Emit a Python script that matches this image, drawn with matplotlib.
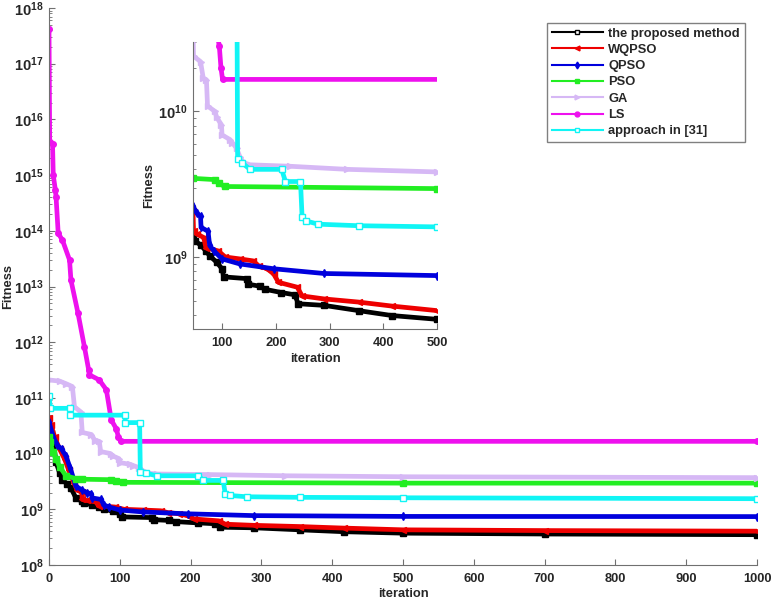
import math
import matplotlib.pyplot as plt
from matplotlib.ticker import FuncFormatter, LogLocator, NullFormatter

plt.rcParams['font.family'] = 'Liberation Sans'
plt.rcParams['font.weight'] = 'bold'
plt.rcParams['mathtext.fontset'] = 'custom'
plt.rcParams['mathtext.bf'] = 'Liberation Sans:bold'
plt.rcParams['mathtext.rm'] = 'Liberation Sans:bold'

# (iteration, fitness)
prop_x = [0, 3, 6, 10, 15, 19, 25, 31, 38, 46, 50, 61, 70, 77, 90, 100, 103, 146, 149, 170, 180, 210, 235, 242, 290, 354, 416, 500, 700, 1000]
prop_y = [3.0e10, 2.3e10, 1.7e10, 7e9, 4.5e9, 3.4e9, 2.9e9, 2.4e9, 1.6e9, 1.4e9, 1.29e9, 1.2e9, 1.1e9, 1.02e9, 9.2e8, 8.3e8, 7.3e8, 7.1e8, 6.5e8, 6.3e8, 6.0e8, 5.7e8, 5.5e8, 4.77e8, 4.65e8, 4.28e8, 3.96e8, 3.73e8, 3.6e8, 3.5e8]

wqpso_x = [0, 3, 8, 15, 22, 28, 35, 40, 46, 47, 53, 66, 70, 93, 106, 133, 158, 168, 184, 196, 205, 240, 249, 290, 354, 416, 500, 700, 1000]
wqpso_y = [4.3e10, 3.2e10, 2.0e10, 1.2e10, 8e9, 5e9, 3e9, 2.2e9, 2.07e9, 1.5e9, 1.44e9, 1.36e9, 1.16e9, 1.1e9, 1.0e9, 9.7e8, 9.4e8, 8.7e8, 8.3e8, 7.65e8, 6.7e8, 6.2e8, 5.4e8, 5.15e8, 4.9e8, 4.6e8, 4.28e8, 4.15e8, 4.05e8]

qpso_x = [0, 6, 12, 18, 24, 30, 38, 46, 53, 60, 61, 74, 77, 85, 100, 133, 196, 290, 500, 1000]
qpso_y = [3.7e10, 2.0e10, 1.4e10, 1.2e10, 9e9, 5.5e9, 2.6e9, 2.24e9, 2.0e9, 1.9e9, 1.6e9, 1.5e9, 1.2e9, 1.1e9, 9.7e8, 8.96e8, 8.3e8, 7.7e8, 7.45e8, 7.4e8]

pso_x = [0, 2, 5, 10, 15, 24, 38, 46, 87, 95, 105, 500, 1000]
pso_y = [2.0e10, 1.6e10, 1.07e10, 8e9, 5.8e9, 4e9, 3.55e9, 3.47e9, 3.4e9, 3.2e9, 3.05e9, 2.95e9, 2.95e9]

ga_x = [0, 15, 24, 33, 36, 45, 47, 60, 65, 71, 73, 87, 90, 99, 100, 115, 119, 127, 133, 140, 152, 227, 333, 500, 1000]
ga_y = [2.1e11, 2.0e11, 1.8e11, 1.6e11, 6.9e10, 5.6e10, 2.4e10, 2.2e10, 1.7e10, 1.65e10, 1.09e10, 1.0e10, 9.1e9, 8.1e9, 6.9e9, 6.4e9, 6.1e9, 5.6e9, 4.9e9, 4.45e9, 4.3e9, 4.2e9, 4.0e9, 3.84e9, 3.7e9]

ls_x = [0, 1, 5, 6, 9, 10, 13, 19, 29, 31, 41, 50, 56, 57, 71, 81, 88, 95, 98, 101, 1000]
ls_y = [4.2e17, 4e15, 3.6e15, 1e15, 5.4e14, 4e14, 9e13, 6.8e13, 3e13, 1.3e13, 3.3e12, 8.3e11, 3.2e11, 2.6e11, 2.1e11, 1.4e11, 4e10, 2.8e10, 2.0e10, 1.66e10, 1.66e10]

app_x = [0, 2, 29, 30, 107, 108, 128, 129, 137, 152, 211, 218, 246, 249, 256, 279, 354, 500, 1000]
app_y = [1.1e11, 6.5e10, 6.5e10, 4.9e10, 4.9e10, 3.6e10, 3.6e10, 4.7e9, 4.45e9, 4.0e9, 4.0e9, 3.3e9, 3.3e9, 1.87e9, 1.77e9, 1.68e9, 1.64e9, 1.61e9, 1.55e9]

main_yticks = [10.0 ** k for k in range(8, 19)]
inset_yticks = [1e9, 1e10]

series = [
    ('the proposed method', prop_x, prop_y, 'k', 's', None),
    ('WQPSO', wqpso_x, wqpso_y, '#ee0000', '<', None),
    ('QPSO', qpso_x, qpso_y, '#0000dd', 'd', None),
    ('PSO', pso_x, pso_y, '#22ee22', 's', None),
    ('GA', ga_x, ga_y, '#d6b8f5', '>', None),
    ('LS', ls_x, ls_y, '#ee11ee', 'o', None),
    ('approach in [31]', app_x, app_y, '#11f5f5', 's', 'none'),
]

axis_gray = '#707070'
text_gray = '#262626'


def style_axes(ax):
    for side in ['top', 'right']:
        ax.spines[side].set_visible(False)
    for side in ['left', 'bottom']:
        ax.spines[side].set_color(axis_gray)
    ax.set_yscale('log')
    ax.tick_params(which='both', direction='in', colors=axis_gray, labelcolor=text_gray)
    ax.tick_params(axis='x', labelsize=9.3, pad=6)
    ax.tick_params(axis='y', labelsize=10.5, pad=4)
    ax.tick_params(which='major', length=4)
    ax.tick_params(which='minor', length=2)
    ax.yaxis.set_major_formatter(FuncFormatter(lambda v, p: r'$\mathbf{10^{%d}}$' % round(math.log10(v))))
    ax.yaxis.set_minor_locator(LogLocator(base=10, subs=range(2, 10), numticks=100))
    ax.yaxis.set_minor_formatter(NullFormatter())


def draw_lines(ax, lw):
    for name, xs, ys, c, m, mfc in series:
        ax.plot(xs, ys, color=c, lw=lw, marker=m, ms=4,
                markerfacecolor=(c if mfc is None else 'white'), markeredgecolor=c)


fig = plt.figure(figsize=(7.73, 6.02), dpi=100)

ax = fig.add_axes([49 / 773, 37 / 602, 708 / 773, 557 / 602])
draw_lines(ax, 3.4)
style_axes(ax)
ax.set_xlim(0, 1000)
ax.set_ylim(1e8, 1e18)
ax.set_xticks(range(0, 1001, 100))
ax.set_yticks(main_yticks)
ax.set_xlabel('iteration', fontsize=9.3, fontweight='bold', color=text_gray, labelpad=2)
ax.set_ylabel('Fitness', fontsize=9.3, fontweight='bold', color=text_gray, labelpad=0)

ins = fig.add_axes([193 / 773, 273 / 602, 244 / 773, 287 / 602])
draw_lines(ins, 3.4)
style_axes(ins)
ins.set_xlim(46, 500)
ins.set_ylim(3.2e8, 3e10)
ins.set_xticks(range(100, 501, 100))
ins.set_yticks(inset_yticks)
ins.set_xlabel('iteration', fontsize=9.3, fontweight='bold', color=text_gray, labelpad=3)
ins.set_ylabel('Fitness', fontsize=9.3, fontweight='bold', color=text_gray, labelpad=2)

leg_handles = []
for name, xs, ys, c, m, mfc in series:
    lh, = ax.plot([], [], color=c, lw=1.5, marker=m, ms=3.5,
                  markerfacecolor=(c if (mfc is None and name != 'the proposed method') else 'white'),
                  markeredgecolor=c, label=name)
    leg_handles.append(lh)
leg = fig.legend(handles=leg_handles, loc='upper left', bbox_to_anchor=(547 / 773, 1 - 23 / 602),
                 fontsize=9.3, handlelength=4, fancybox=False, framealpha=1, edgecolor='#808080',
                 labelspacing=0.33, borderpad=0.35, handletextpad=0.4, borderaxespad=0)
for t in leg.get_texts():
    t.set_fontweight('bold')
    t.set_color(text_gray)
leg.get_frame().set_linewidth(1.0)

fig.savefig('out.png', dpi=100)
